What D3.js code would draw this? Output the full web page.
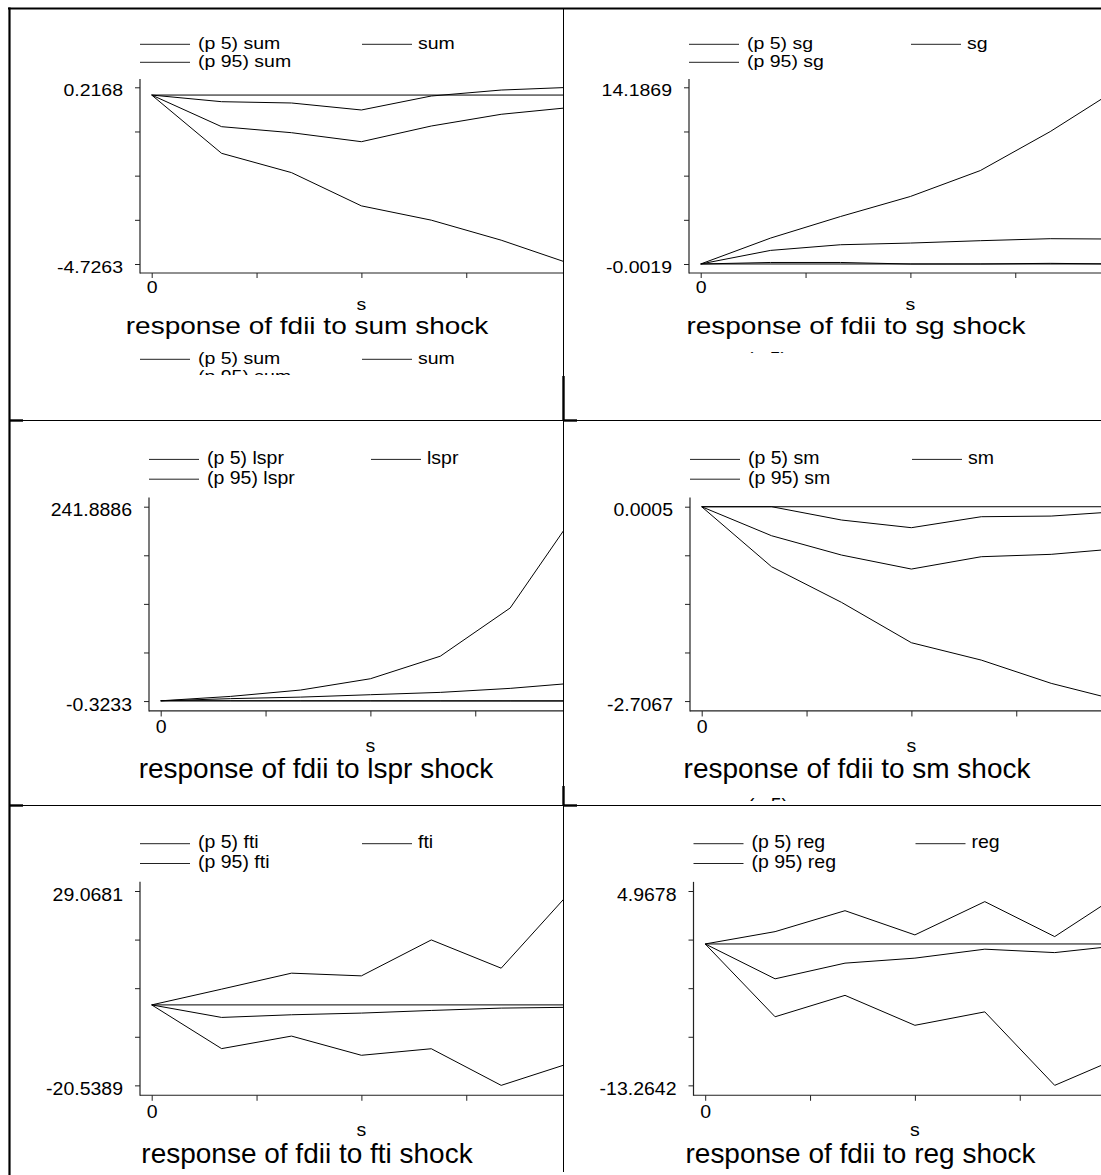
<!DOCTYPE html>
<html><head><meta charset="utf-8">
<script src="https://cdn.jsdelivr.net/npm/d3@7"></script>
<style>
html,body{margin:0;padding:0;background:#fff;}
svg{display:block;}
text{font-family:"Liberation Sans", Arial, Helvetica, sans-serif; fill:#000;}
</style></head><body>
<svg id="chart" width="1101" height="1175"></svg>
<script>
// ---------------- data ----------------
const steps = [0, 1, 2, 3, 4, 5, 6];
const shocks = ["sum", "sg", "lspr", "sm", "fti", "reg"];
const yMaxLabels = ["0.2168", "14.1869", "241.8886", "0.0005", "29.0681", "4.9678"];
const yMinLabels = ["-4.7263", "-0.0019", "-0.3233", "-2.7067", "-20.5389", "-13.2642"];
const xTickValues = [0, 1.5, 3, 4.5, 6];
const xTickLabels = ["0", "", "", "", ""];
const xAxisTitle = "s";

const p5_sum  = [0, -1.63, -2.17, -3.10, -3.50, -4.06, -4.7263];
const irf_sum = [0, -0.885, -1.053, -1.305, -0.866, -0.538, -0.345];
const p95_sum = [0, -0.186, -0.222, -0.418, -0.027, 0.14, 0.2168];

const p5_sg  = [0, 0.12, 0.12, -0.0019, 0.0, 0.05, -0.0019];
const irf_sg = [0, 1.09, 1.545, 1.68, 1.87, 2.03, 2.0];
const p95_sg = [0, 2.08, 3.81, 5.42, 7.50, 10.63, 14.1869];

const p5_lspr  = [0, -0.05, -0.1, -0.15, -0.2, -0.25, -0.3233];
const irf_lspr = [0, 2.7, 4.6, 7.6, 10.5, 15.5, 22.7];
const p95_lspr = [0, 5.5, 13.4, 27.5, 55.6, 115.7, 241.8886];

const p5_sm  = [0, -0.836, -1.332, -1.894, -2.136, -2.46, -2.7067];
const irf_sm = [0, -0.404, -0.673, -0.868, -0.696, -0.663, -0.58];
const p95_sm = [0, 0.0005, -0.185, -0.292, -0.139, -0.13, -0.065];

const p5_fti  = [0, -11.16, -7.96, -12.86, -11.19, -20.5389, -14.77];
const irf_fti = [0, -3.2, -2.52, -2.09, -1.42, -0.82, -0.6];
const p95_fti = [0, 4.02, 8.1, 7.41, 16.58, 9.37, 29.0681];

const p5_reg  = [0, -6.83, -4.82, -7.63, -6.37, -13.2642, -10.45];
const irf_reg = [0, -3.27, -1.80, -1.33, -0.49, -0.81, -0.1];
const p95_reg = [0, 1.157, 3.12, 0.85, 3.97, 0.69, 4.9678];

const panelSeries = [
  [p5_sum, irf_sum, p95_sum],
  [p5_sg, irf_sg, p95_sg],
  [p5_lspr, irf_lspr, p95_lspr],
  [p5_sm, irf_sm, p95_sm],
  [p5_fti, irf_fti, p95_fti],
  [p5_reg, irf_reg, p95_reg]
];

// ---------------- layout (positions only) ----------------
// next: how many entries of the following graph's legend peek into the cell
const layouts = [
  {ax: 140,   top: 87.3,  sv: 1.0, clip: [11, 10, 552, 365],  next: 3},
  {ax: 689,   top: 87.3,  sv: 1.0, clip: [564, 10, 537, 343], next: 1},
  {ax: 149,   top: 506.7, sv: 1.1, clip: [11, 422, 552, 373], next: 0},
  {ax: 690,   top: 506.7, sv: 1.1, clip: [564, 422, 537, 379], next: 1},
  {ax: 140,   top: 891,   sv: 1.1, clip: [11, 807, 552, 368], next: 0},
  {ax: 693.5, top: 891,   sv: 1.1, clip: [564, 807, 537, 368], next: 0}
];
const FS = 19.5, TFS = 28;
const FONT = '"Liberation Sans", Arial, Helvetica, sans-serif';

const svg = d3.select("#chart");
const defs = svg.append("defs");

function sText(g, str, x, y, size, sy, anchor) {
  return g.append("text")
    .attr("transform", `translate(${x},${y}) scale(1,${sy})`)
    .attr("font-size", size)
    .attr("font-family", FONT)
    .attr("text-anchor", anchor || "start")
    .text(str);
}

function legend(g, name, L, row1, row2, sy, count) {
  const entries = [
    {label: "(p 5) " + name, col: 0, y: row1},
    {label: name, col: 1, y: row1},
    {label: "(p 95) " + name, col: 0, y: row2}
  ].slice(0, count);
  entries.forEach(e => {
    const lx = L.ax + (e.col === 0 ? 0 : 222);
    g.append("line").attr("x1", lx).attr("x2", lx + 50)
      .attr("y1", e.y).attr("y2", e.y)
      .attr("stroke", "#222").attr("stroke-width", 1);
    sText(g, e.label, lx + (e.col === 0 ? 58 : 56), e.y + 4.2 * L.sv, FS, sy);
  });
}

shocks.forEach((name, i) => {
  const L = layouts[i], sv = L.sv, sy = 0.87 * sv;
  defs.append("clipPath").attr("id", "clip" + i).append("rect")
    .attr("x", L.clip[0]).attr("y", L.clip[1])
    .attr("width", L.clip[2]).attr("height", L.clip[3]);
  const g = svg.append("g").attr("clip-path", `url(#clip${i})`);

  const yMax = +yMaxLabels[i], yMin = +yMinLabels[i];
  const y = d3.scaleLinear().domain([yMin, yMax]).range([L.top + 176.7 * sv, L.top]);
  const x0 = L.ax + 11.7;
  const x = d3.scaleLinear().domain([0, 6]).range([x0, x0 + 419.4]);
  const axisY = L.top + 185.7 * sv;

  // legend
  legend(g, name, L, L.top - 43 * sv, L.top - 25 * sv, sy, 3);

  // y axis
  const yTicks = d3.range(5).map(k => yMin + k * (yMax - yMin) / 4);
  const yAxis = d3.axisLeft(y).tickValues(yTicks).tickSize(5).tickPadding(12)
    .tickFormat((d, k) => k === 0 ? yMinLabels[i] : (k === 4 ? yMaxLabels[i] : ""));
  const gy = g.append("g").attr("transform", `translate(${L.ax},0)`).call(yAxis);
  gy.select(".domain").remove();
  gy.selectAll(".tick line").attr("stroke", "#222");
  gy.selectAll(".tick text")
    .attr("font-size", FS).attr("font-family", FONT)
    .attr("dy", null).attr("y", 8.4 * sv / sy)
    .attr("transform", `scale(1,${sy})`);
  g.append("line").attr("x1", L.ax).attr("x2", L.ax)
    .attr("y1", L.top - 8.3 * sv).attr("y2", axisY + 0.5)
    .attr("stroke", "#222").attr("stroke-width", 1.2);

  // x axis
  const xAxis = d3.axisBottom(x).tickValues(xTickValues).tickSize(5 * sv)
    .tickFormat((d, k) => xTickLabels[k]);
  const gx = g.append("g").attr("transform", `translate(0,${axisY})`).call(xAxis);
  gx.select(".domain").remove();
  gx.selectAll(".tick line").attr("stroke", "#222");
  gx.selectAll(".tick text")
    .attr("font-size", FS).attr("font-family", FONT)
    .attr("dy", null).attr("y", 20.3 * sv / sy)
    .attr("transform", `scale(1,${sy})`);
  g.append("line").attr("x1", L.ax).attr("x2", L.ax + 460)
    .attr("y1", axisY).attr("y2", axisY)
    .attr("stroke", "#222").attr("stroke-width", 1.2);

  sText(g, xAxisTitle, x(3), axisY + 37 * sv, FS, sy, "middle");
  sText(g, `response of fdii to ${name} shock`, L.ax + 167, axisY + 61.3 * sv, TFS, sy, "middle");

  // zero reference line
  g.append("line").attr("x1", x(0)).attr("x2", x(6))
    .attr("y1", y(0)).attr("y2", y(0))
    .attr("stroke", "#000").attr("stroke-width", 1);

  // series lines
  const line = d3.line().x((d, k) => x(steps[k])).y(d => y(d));
  panelSeries[i].forEach(s => {
    g.append("path").datum(s).attr("d", line)
      .attr("fill", "none").attr("stroke", "#000").attr("stroke-width", 1);
  });

  // repeated legend of the next graph image, cut by the cell
  if (L.next > 0) legend(g, name, L, L.top + 272 * sv, L.top + 290 * sv, sy, L.next);
});

// ---------------- table borders ----------------
const B = svg.append("g").attr("stroke", "#000").attr("fill", "none");
B.append("line").attr("x1", 8).attr("x2", 1101).attr("y1", 8.5).attr("y2", 8.5).attr("stroke-width", 2.2);
B.append("line").attr("x1", 9.5).attr("x2", 9.5).attr("y1", 7.5).attr("y2", 1175).attr("stroke-width", 2.2);
B.append("line").attr("x1", 563.5).attr("x2", 563.5).attr("y1", 8).attr("y2", 1172).attr("stroke-width", 1);
[[376, 421], [786, 806]].forEach(([a, b]) => {
  B.append("line").attr("x1", 563.5).attr("x2", 563.5).attr("y1", a).attr("y2", b).attr("stroke-width", 2.4);
});
[420.5, 805.5].forEach(yy => {
  B.append("line").attr("x1", 9).attr("x2", 1101).attr("y1", yy).attr("y2", yy).attr("stroke-width", 1.2);
  B.append("line").attr("x1", 9).attr("x2", 23).attr("y1", yy).attr("y2", yy).attr("stroke-width", 2.4);
  B.append("line").attr("x1", 563).attr("x2", 577).attr("y1", yy).attr("y2", yy).attr("stroke-width", 2.4);
});
</script>
</body></html>
